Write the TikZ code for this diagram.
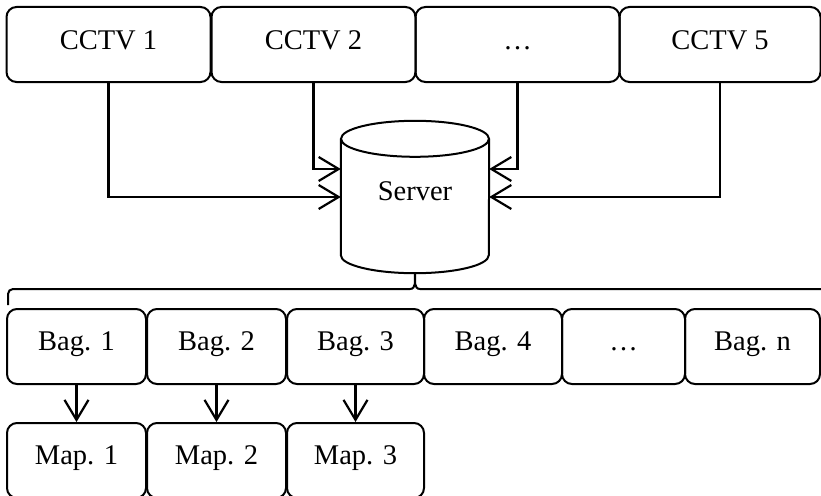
\documentclass[tikz,border=0pt]{standalone}
\usepackage{fontspec}
\setmainfont{Liberation Serif}
\usetikzlibrary{arrows.meta}
\begin{document}
\begin{tikzpicture}[x=1pt,y=1pt,
  every node/.style={font=\fontsize{28.5}{34}\selectfont},
  frame/.style={draw, line width=2pt, rounded corners=10pt, inner sep=0pt},
  camera/.style={frame, minimum width=204pt, minimum height=75pt, text height=20pt, text depth=9pt},
  bagbox/.style={frame, minimum height=75pt, text height=20pt, text depth=13pt},
  conn/.style={line width=2.2pt, -{Straight Barb[length=20pt,width=24pt]}},
  outline/.style={line width=2pt}]
\useasboundingbox (0,0) rectangle (821,-495);
\clip (0,0) rectangle (821,-495);

% cameras
\node[camera] (c1) at (108.5,-44.5) {CCTV 1};
\node[camera] (c2) at (313.5,-44.5) {CCTV 2};
\node[camera] (c3) at (517.5,-44.5) {…};
\node[camera, minimum width=201pt] (c4) at (720,-44.5) {CCTV 5};

% server (cylinder drawn around an invisible frame node)
\node[minimum width=148pt, minimum height=152pt, inner sep=0pt,
      text height=20pt, text depth=13pt] (server) at (415,-197) {Server};
\draw[outline] ([yshift=-18pt]server.north) ellipse [x radius=74, y radius=18];
\draw[outline] ([yshift=-18pt]server.north west) -- ([yshift=18pt]server.south west)
  arc[start angle=180, end angle=360, x radius=74, y radius=18]
  -- ([yshift=-18pt]server.north east);

% camera feeds
\draw[conn] (c1.south) |- (server.west);
\draw[conn] (c2.south) |- ([yshift=28pt]server.west);
\draw[conn] (c3.south) |- ([yshift=28pt]server.east);
\draw[conn] (c4.south) |- (server.east);

% brace under the server
\draw[outline] (8,-305) -- (8,-294) to[out=90,in=180] (13,-289) -- (410,-289)
  to[out=0,in=-90] (server.south)
  to[out=-90,in=180] (420,-289) -- (830,-289);

% bags
\node[bagbox, minimum width=139pt] (b1) at (76.5,-346.5) {Bag. 1};
\node[bagbox, minimum width=139pt] (b2) at (216.5,-346.5) {Bag. 2};
\node[bagbox, minimum width=137pt] (b3) at (355.5,-346.5) {Bag. 3};
\node[bagbox, minimum width=138pt] (b4) at (493,-346.5) {Bag. 4};
\node[bagbox, minimum width=123pt] (b5) at (623.5,-346.5) {…};
\node[bagbox, minimum width=135pt] (b6) at (752.5,-346.5) {Bag. n};

% maps
\node[bagbox, minimum width=139pt] (m1) at (76.5,-460.5) {Map. 1};
\node[bagbox, minimum width=139pt] (m2) at (216.5,-460.5) {Map. 2};
\node[bagbox, minimum width=137pt] (m3) at (355.5,-460.5) {Map. 3};

\draw[conn] (b1.south) -- (m1.north);
\draw[conn] (b2.south) -- (m2.north);
\draw[conn] (b3.south) -- (m3.north);
\end{tikzpicture}
\end{document}
